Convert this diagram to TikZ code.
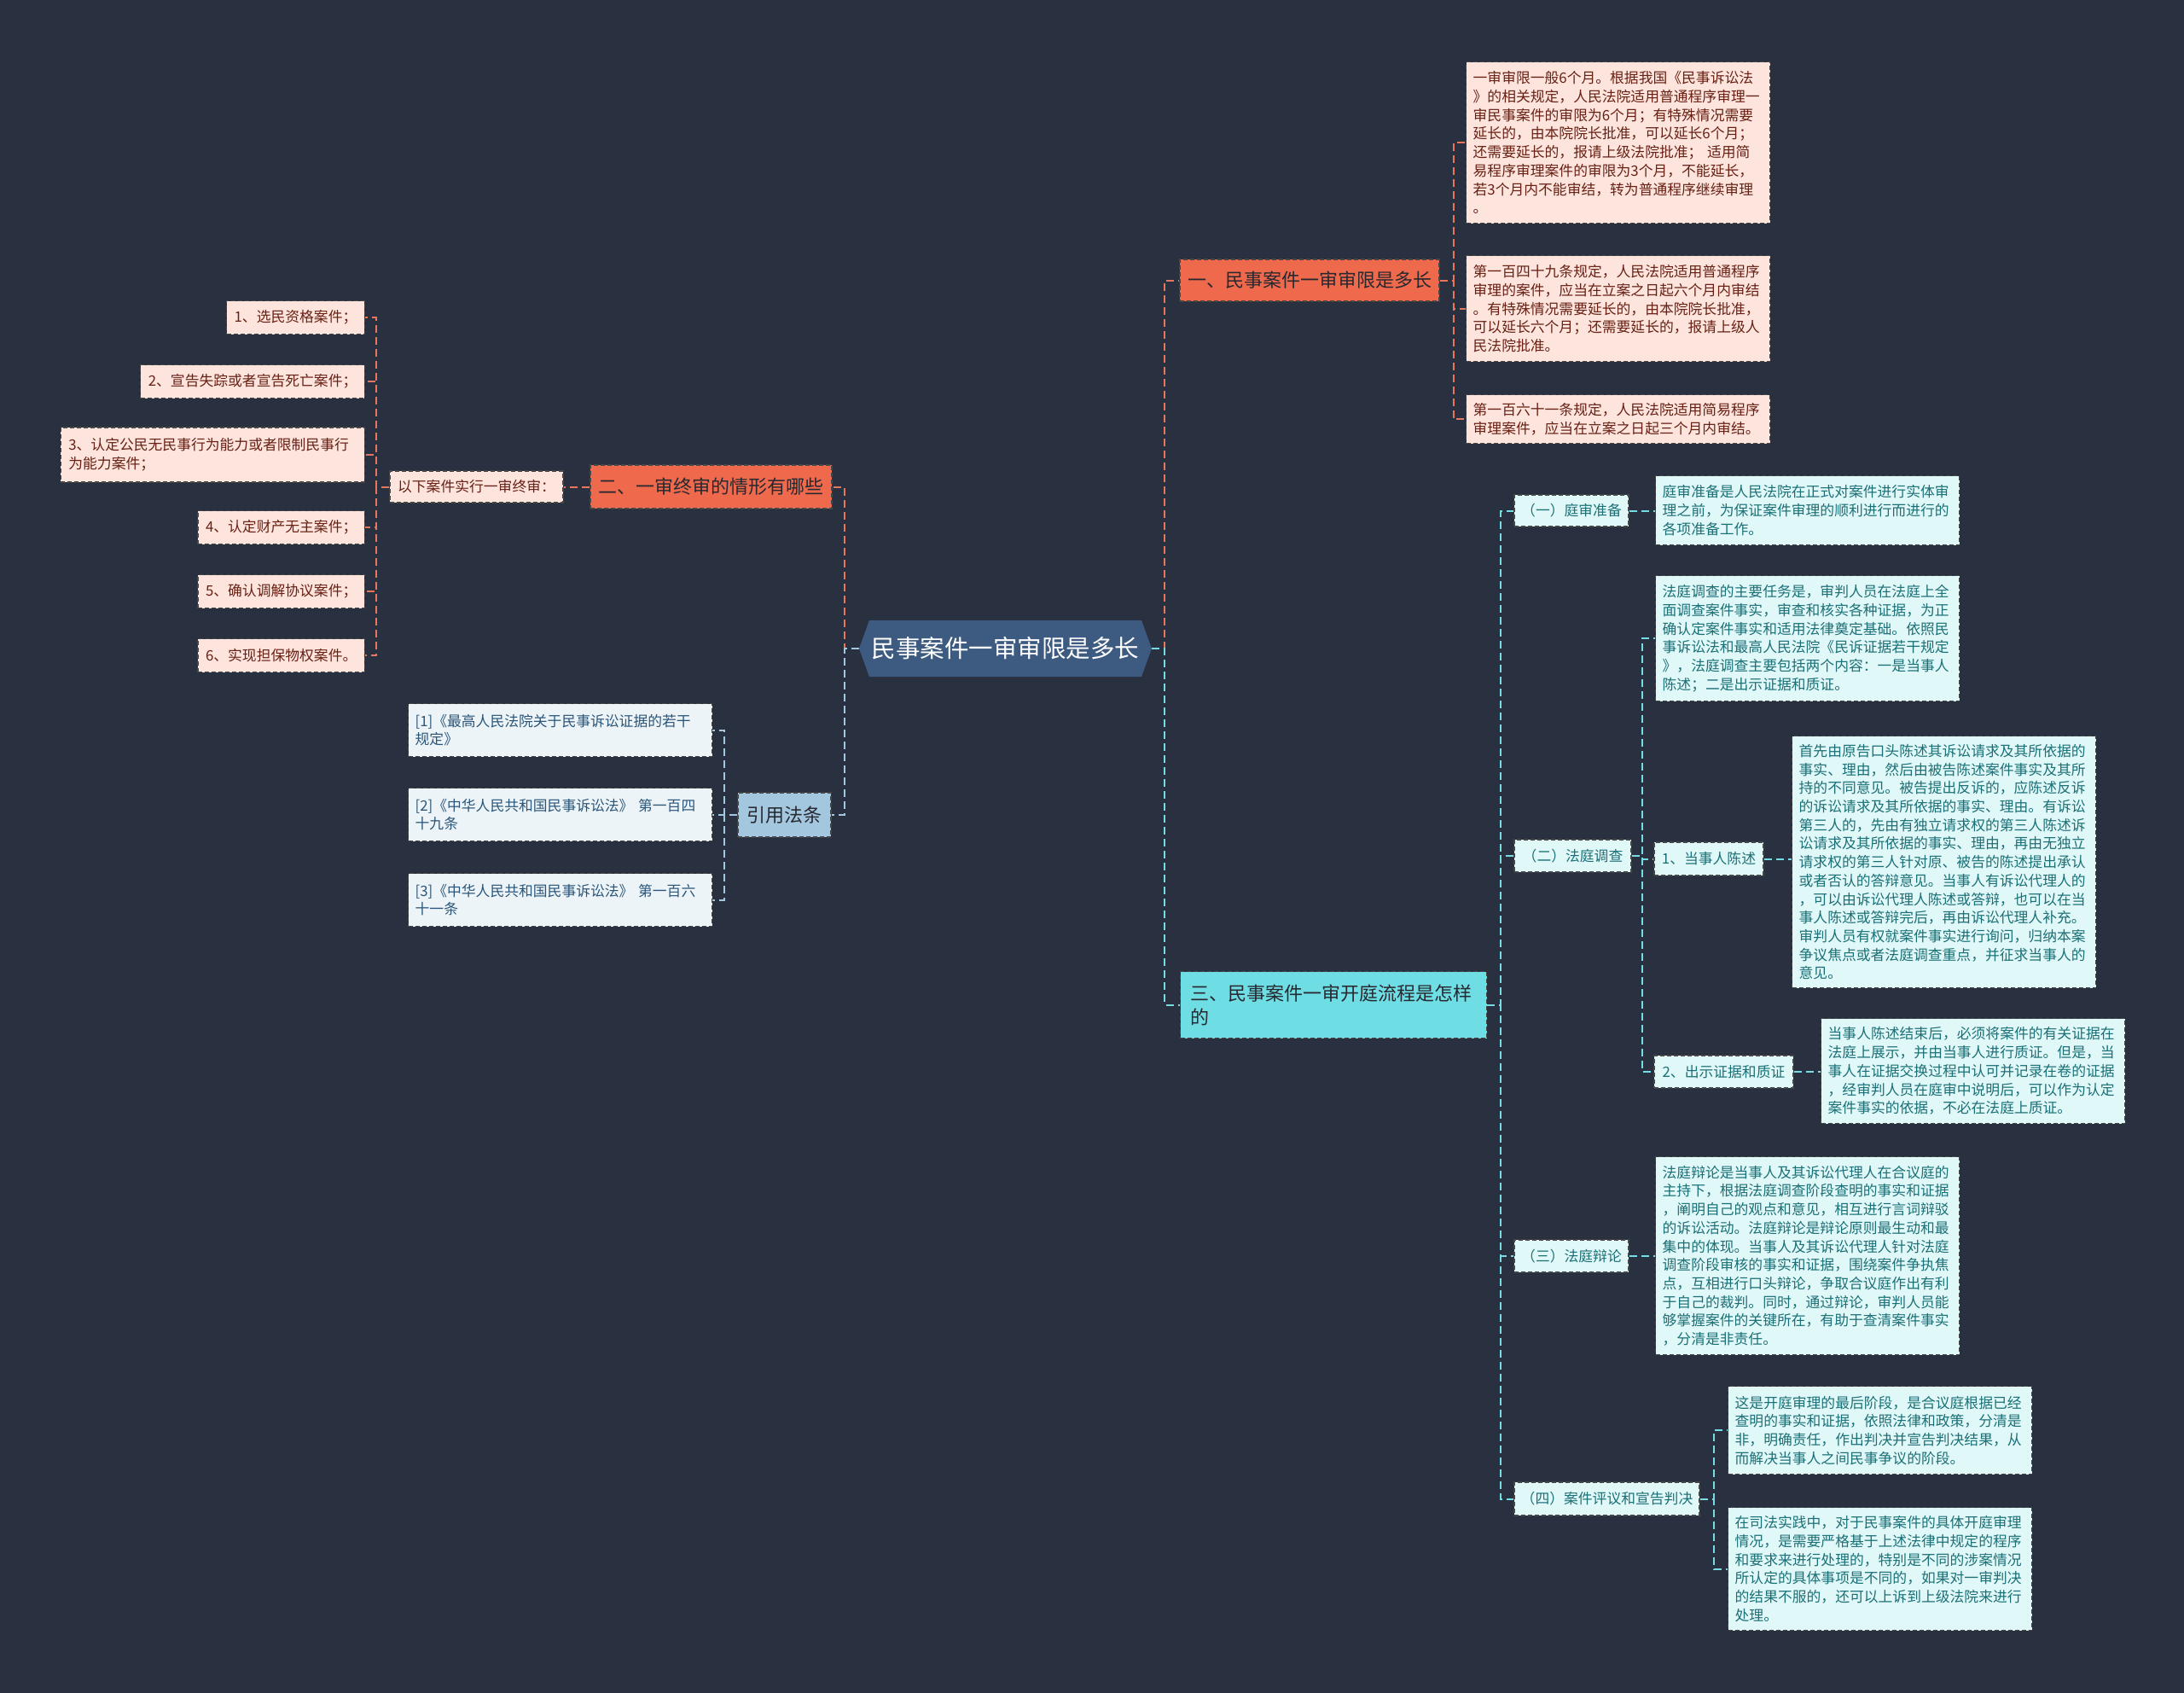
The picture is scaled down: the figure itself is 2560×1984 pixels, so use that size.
\documentclass[tikz,border=0pt]{standalone}
\usepackage{fontspec}
\usepackage{tikz}
\usepackage{xcolor}
\setmainfont{Noto Sans CJK SC}
\usetikzlibrary{positioning}
\definecolor{bgnavy}{RGB}{41,49,64}
\definecolor{coral}{RGB}{239,106,77}
\definecolor{coralline}{RGB}{232,118,92}
\definecolor{rosefill}{RGB}{253,229,221}
\definecolor{rosetext}{RGB}{104,32,20}
\definecolor{rootblue}{RGB}{61,90,128}
\definecolor{cyanfill}{RGB}{110,221,228}
\definecolor{cyanline}{RGB}{118,220,228}
\definecolor{palecyan}{RGB}{225,248,249}
\definecolor{tealtext}{RGB}{26,112,118}
\definecolor{skyfill}{RGB}{163,199,222}
\definecolor{mistfill}{RGB}{237,244,248}
\definecolor{navytext}{RGB}{42,86,122}
\definecolor{darktext}{RGB}{40,40,48}
\definecolor{boxedge}{RGB}{70,70,70}
\newcommand\paratext{\fontsize{16.8pt}{21.7pt}\selectfont}
\newcommand\branchtext{\fontsize{22pt}{28pt}\selectfont}
\newcommand\roottext{\fontsize{28.5pt}{34pt}\selectfont}

\begin{document}
\begin{tikzpicture}[x=1pt, y=-1pt,
		boxline/.style={draw=boxedge, dash pattern=on 5pt off 3pt, line width=1.3pt},
		leafred/.style={boxline, fill=rosefill, text=rosetext, font=\paratext,
			align=left, inner xsep=8pt, inner ysep=0pt},
		leafcyan/.style={boxline, fill=palecyan, text=tealtext, font=\paratext,
			align=left, inner xsep=8pt, inner ysep=0pt},
		leafsky/.style={boxline, fill=mistfill, text=navytext, font=\paratext,
			align=left, inner xsep=8pt, inner ysep=0pt},
		para/.style={anchor=north west, text width=340pt},
		branchred/.style={boxline, fill=coral, text=darktext, font=\branchtext, inner sep=0pt},
		branchcyan/.style={boxline, fill=cyanfill, text=darktext, font=\branchtext,
			align=left, text width=335pt, inner xsep=12pt, inner ysep=0pt},
		branchsky/.style={boxline, fill=skyfill, text=darktext, font=\branchtext, inner sep=0pt},
		rootnode/.style={fill=bgnavy, text=white, font=\roottext, inner sep=0pt,
			minimum width=343pt, minimum height=66pt,
			path picture={\fill[rootblue] (path picture bounding box.west)
				-- ([xshift=12pt]path picture bounding box.north west)
				-- ([xshift=-12pt]path picture bounding box.north east)
				-- (path picture bounding box.east)
				-- ([xshift=-12pt]path picture bounding box.south east)
				-- ([xshift=12pt]path picture bounding box.south west) -- cycle;}},
		link/.style={dash pattern=on 9pt off 5pt, line width=2pt},
		linkred/.style={link, draw=coralline},
		linkcyan/.style={link, draw=cyanline},
		linksky/.style={link, draw=skyfill}
	]
	\fill[bgnavy] (0,0) rectangle (2560,1984);
	\useasboundingbox (0,0) rectangle (2560,1984);

	% root and main branches
	\node[rootnode] (root) at (1178.5,760) {民事案件一审审限是多长};
	\node[branchred, minimum width=304pt, minimum height=49pt] (b1) at (1535,328.5) {一、民事案件一审审限是多长};
	\node[branchred, minimum width=283pt, minimum height=51pt] (b2) at (833.5,570.5) {二、一审终审的情形有哪些};
	\node[branchcyan, anchor=north west, minimum height=78pt] (b3) at (1383,1138) {三、民事案件一审开庭流程是怎样\\的};
	\node[branchsky, minimum width=109pt, minimum height=52pt] (b4) at (919.5,955) {引用法条};

	% branch one
	\node[leafred, para, minimum height=189pt] (p1) at (1718,72) {一审审限一般6个月。根据我国《民事诉讼法\\》的相关规定，人民法院适用普通程序审理一\\审民事案件的审限为6个月；有特殊情况需要\\延长的，由本院院长批准，可以延长6个月；\\还需要延长的，报请上级法院批准； 适用简\\易程序审理案件的审限为3个月，不能延长，\\若3个月内不能审结，转为普通程序继续审理\\。};
	\node[leafred, para, minimum height=124pt] (p2) at (1718,299) {第一百四十九条规定，人民法院适用普通程序\\审理的案件，应当在立案之日起六个月内审结\\。有特殊情况需要延长的，由本院院长批准，\\可以延长六个月；还需要延长的，报请上级人\\民法院批准。};
	\node[leafred, para, minimum height=57pt] (p3) at (1718,462) {第一百六十一条规定，人民法院适用简易程序\\审理案件，应当在立案之日起三个月内审结。};

	% branch two
	\node[leafred, minimum width=203pt, minimum height=37pt, inner xsep=6pt] (lead) at (558.5,570.5) {以下案件实行一审终审：};
	\node[leafred, anchor=east, minimum height=39pt, inner xsep=9pt] (item1) at (428,372) {1、选民资格案件；};
	\node[leafred, anchor=east, minimum height=39pt, inner xsep=9pt] (item2) at (428,447) {2、宣告失踪或者宣告死亡案件；};
	\node[leafred, anchor=east, minimum height=64pt, inner xsep=9pt, text width=338pt] (item3) at (428,533) {3、认定公民无民事行为能力或者限制民事行\\为能力案件；};
	\node[leafred, anchor=east, minimum height=39pt, inner xsep=9pt] (item4) at (428,618) {4、认定财产无主案件；};
	\node[leafred, anchor=east, minimum height=39pt, inner xsep=9pt] (item5) at (428,693) {5、确认调解协议案件；};
	\node[leafred, anchor=east, minimum height=39pt, inner xsep=9pt] (item6) at (428,768) {6、实现担保物权案件。};

	% cited laws
	\node[leafsky, para, minimum height=62pt] (r1) at (478,824) {[1]《最高人民法院关于民事诉讼证据的若干\\规定》};
	\node[leafsky, para, minimum height=62pt] (r2) at (478,923) {[2]《中华人民共和国民事诉讼法》 第一百四\\十九条};
	\node[leafsky, para, minimum height=62pt] (r3) at (478,1023) {[3]《中华人民共和国民事诉讼法》 第一百六\\十一条};

	% branch three
	\node[leafcyan, minimum width=134pt, minimum height=37pt, inner xsep=6pt] (s1) at (1842,598.5) {（一）庭审准备};
	\node[leafcyan, minimum width=137pt, minimum height=38pt, inner xsep=6pt] (s2) at (1843.5,1003) {（二）法庭调查};
	\node[leafcyan, minimum width=134pt, minimum height=38pt, inner xsep=6pt] (s3) at (1842,1472) {（三）法庭辩论};
	\node[leafcyan, minimum width=217pt, minimum height=39pt, inner xsep=6pt] (s4) at (1883.5,1756.5) {（四）案件评议和宣告判决};
	\node[leafcyan, minimum width=128pt, minimum height=39pt, inner xsep=6pt] (t1) at (2003,1006.5) {1、当事人陈述};
	\node[leafcyan, minimum width=163pt, minimum height=38pt, inner xsep=6pt] (t2) at (2020.5,1256) {2、出示证据和质证};

	\node[leafcyan, para, minimum height=81pt] (q1) at (1940,557) {庭审准备是人民法院在正式对案件进行实体审\\理之前，为保证案件审理的顺利进行而进行的\\各项准备工作。};
	\node[leafcyan, para, minimum height=147pt] (q2) at (1940,674) {法庭调查的主要任务是，审判人员在法庭上全\\面调查案件事实，审查和核实各种证据，为正\\确认定案件事实和适用法律奠定基础。依照民\\事诉讼法和最高人民法院《民诉证据若干规定\\》，法庭调查主要包括两个内容：一是当事人\\陈述；二是出示证据和质证。};
	\node[leafcyan, para, minimum height=295pt] (q3) at (2100,862) {首先由原告口头陈述其诉讼请求及其所依据的\\事实、理由，然后由被告陈述案件事实及其所\\持的不同意见。被告提出反诉的，应陈述反诉\\的诉讼请求及其所依据的事实、理由。有诉讼\\第三人的，先由有独立请求权的第三人陈述诉\\讼请求及其所依据的事实、理由，再由无独立\\请求权的第三人针对原、被告的陈述提出承认\\或者否认的答辩意见。当事人有诉讼代理人的\\，可以由诉讼代理人陈述或答辩，也可以在当\\事人陈述或答辩完后，再由诉讼代理人补充。\\审判人员有权就案件事实进行询问，归纳本案\\争议焦点或者法庭调查重点，并征求当事人的\\意见。};
	\node[leafcyan, para, minimum height=123pt] (q4) at (2134,1193) {当事人陈述结束后，必须将案件的有关证据在\\法庭上展示，并由当事人进行质证。但是，当\\事人在证据交换过程中认可并记录在卷的证据\\，经审判人员在庭审中说明后，可以作为认定\\案件事实的依据，不必在法庭上质证。};
	\node[leafcyan, para, minimum height=232pt] (q5) at (1940,1355) {法庭辩论是当事人及其诉讼代理人在合议庭的\\主持下，根据法庭调查阶段查明的事实和证据\\，阐明自己的观点和意见，相互进行言词辩驳\\的诉讼活动。法庭辩论是辩论原则最生动和最\\集中的体现。当事人及其诉讼代理人针对法庭\\调查阶段审核的事实和证据，围绕案件争执焦\\点，互相进行口头辩论，争取合议庭作出有利\\于自己的裁判。同时，通过辩论，审判人员能\\够掌握案件的关键所在，有助于查清案件事实\\，分清是非责任。};
	\node[leafcyan, para, minimum height=103pt] (q6) at (2025,1624) {这是开庭审理的最后阶段，是合议庭根据已经\\查明的事实和证据，依照法律和政策，分清是\\非，明确责任，作出判决并宣告判决结果，从\\而解决当事人之间民事争议的阶段。};
	\node[leafcyan, para, minimum height=144pt] (q7) at (2025,1766) {在司法实践中，对于民事案件的具体开庭审理\\情况，是需要严格基于上述法律中规定的程序\\和要求来进行处理的，特别是不同的涉案情况\\所认定的具体事项是不同的，如果对一审判决\\的结果不服的，还可以上诉到上级法院来进行\\处理。};

	% connectors
	\draw[linkred] (root.west) -- ++(-17,0) |- (b2.east);
	\draw[linksky] (root.west) -- ++(-17,0) |- (b4.east);
	\draw[linkred] (root.east) -- ++(15,0) |- (b1.west);
	\draw[linkcyan] (root.east) -- ++(15,0) |- (b3.west);
	\foreach \p in {p1,p2,p3}
		\draw[linkred] (b1.east) -- ++(16,0) |- (\p.west);
	\draw[linkred] (b2.west) -- (lead.east);
	\foreach \i in {1,...,6}
		\draw[linkred] (lead.west) -- ++(-15,0) |- (item\i.east);
	\foreach \r in {r1,r2,r3}
		\draw[linksky] (b4.west) -- ++(-15,0) |- (\r.east);
	\foreach \s in {s1,s2,s3,s4}
		\draw[linkcyan] (b3.east) -- ++(16,0) |- (\s.west);
	\foreach \a/\b in {s1/q1,t1/q3,t2/q4,s3/q5}
		\draw[linkcyan] (\a.east) -- (\a.east -| \b.west);
	\foreach \t in {q2,t1,t2}
		\draw[linkcyan] (s2.east) -- ++(12,0) |- (\t.west);
	\foreach \t in {q6,q7}
		\draw[linkcyan] (s4.east) -- ++(16,0) |- (\t.west);
\end{tikzpicture}
\end{document}
